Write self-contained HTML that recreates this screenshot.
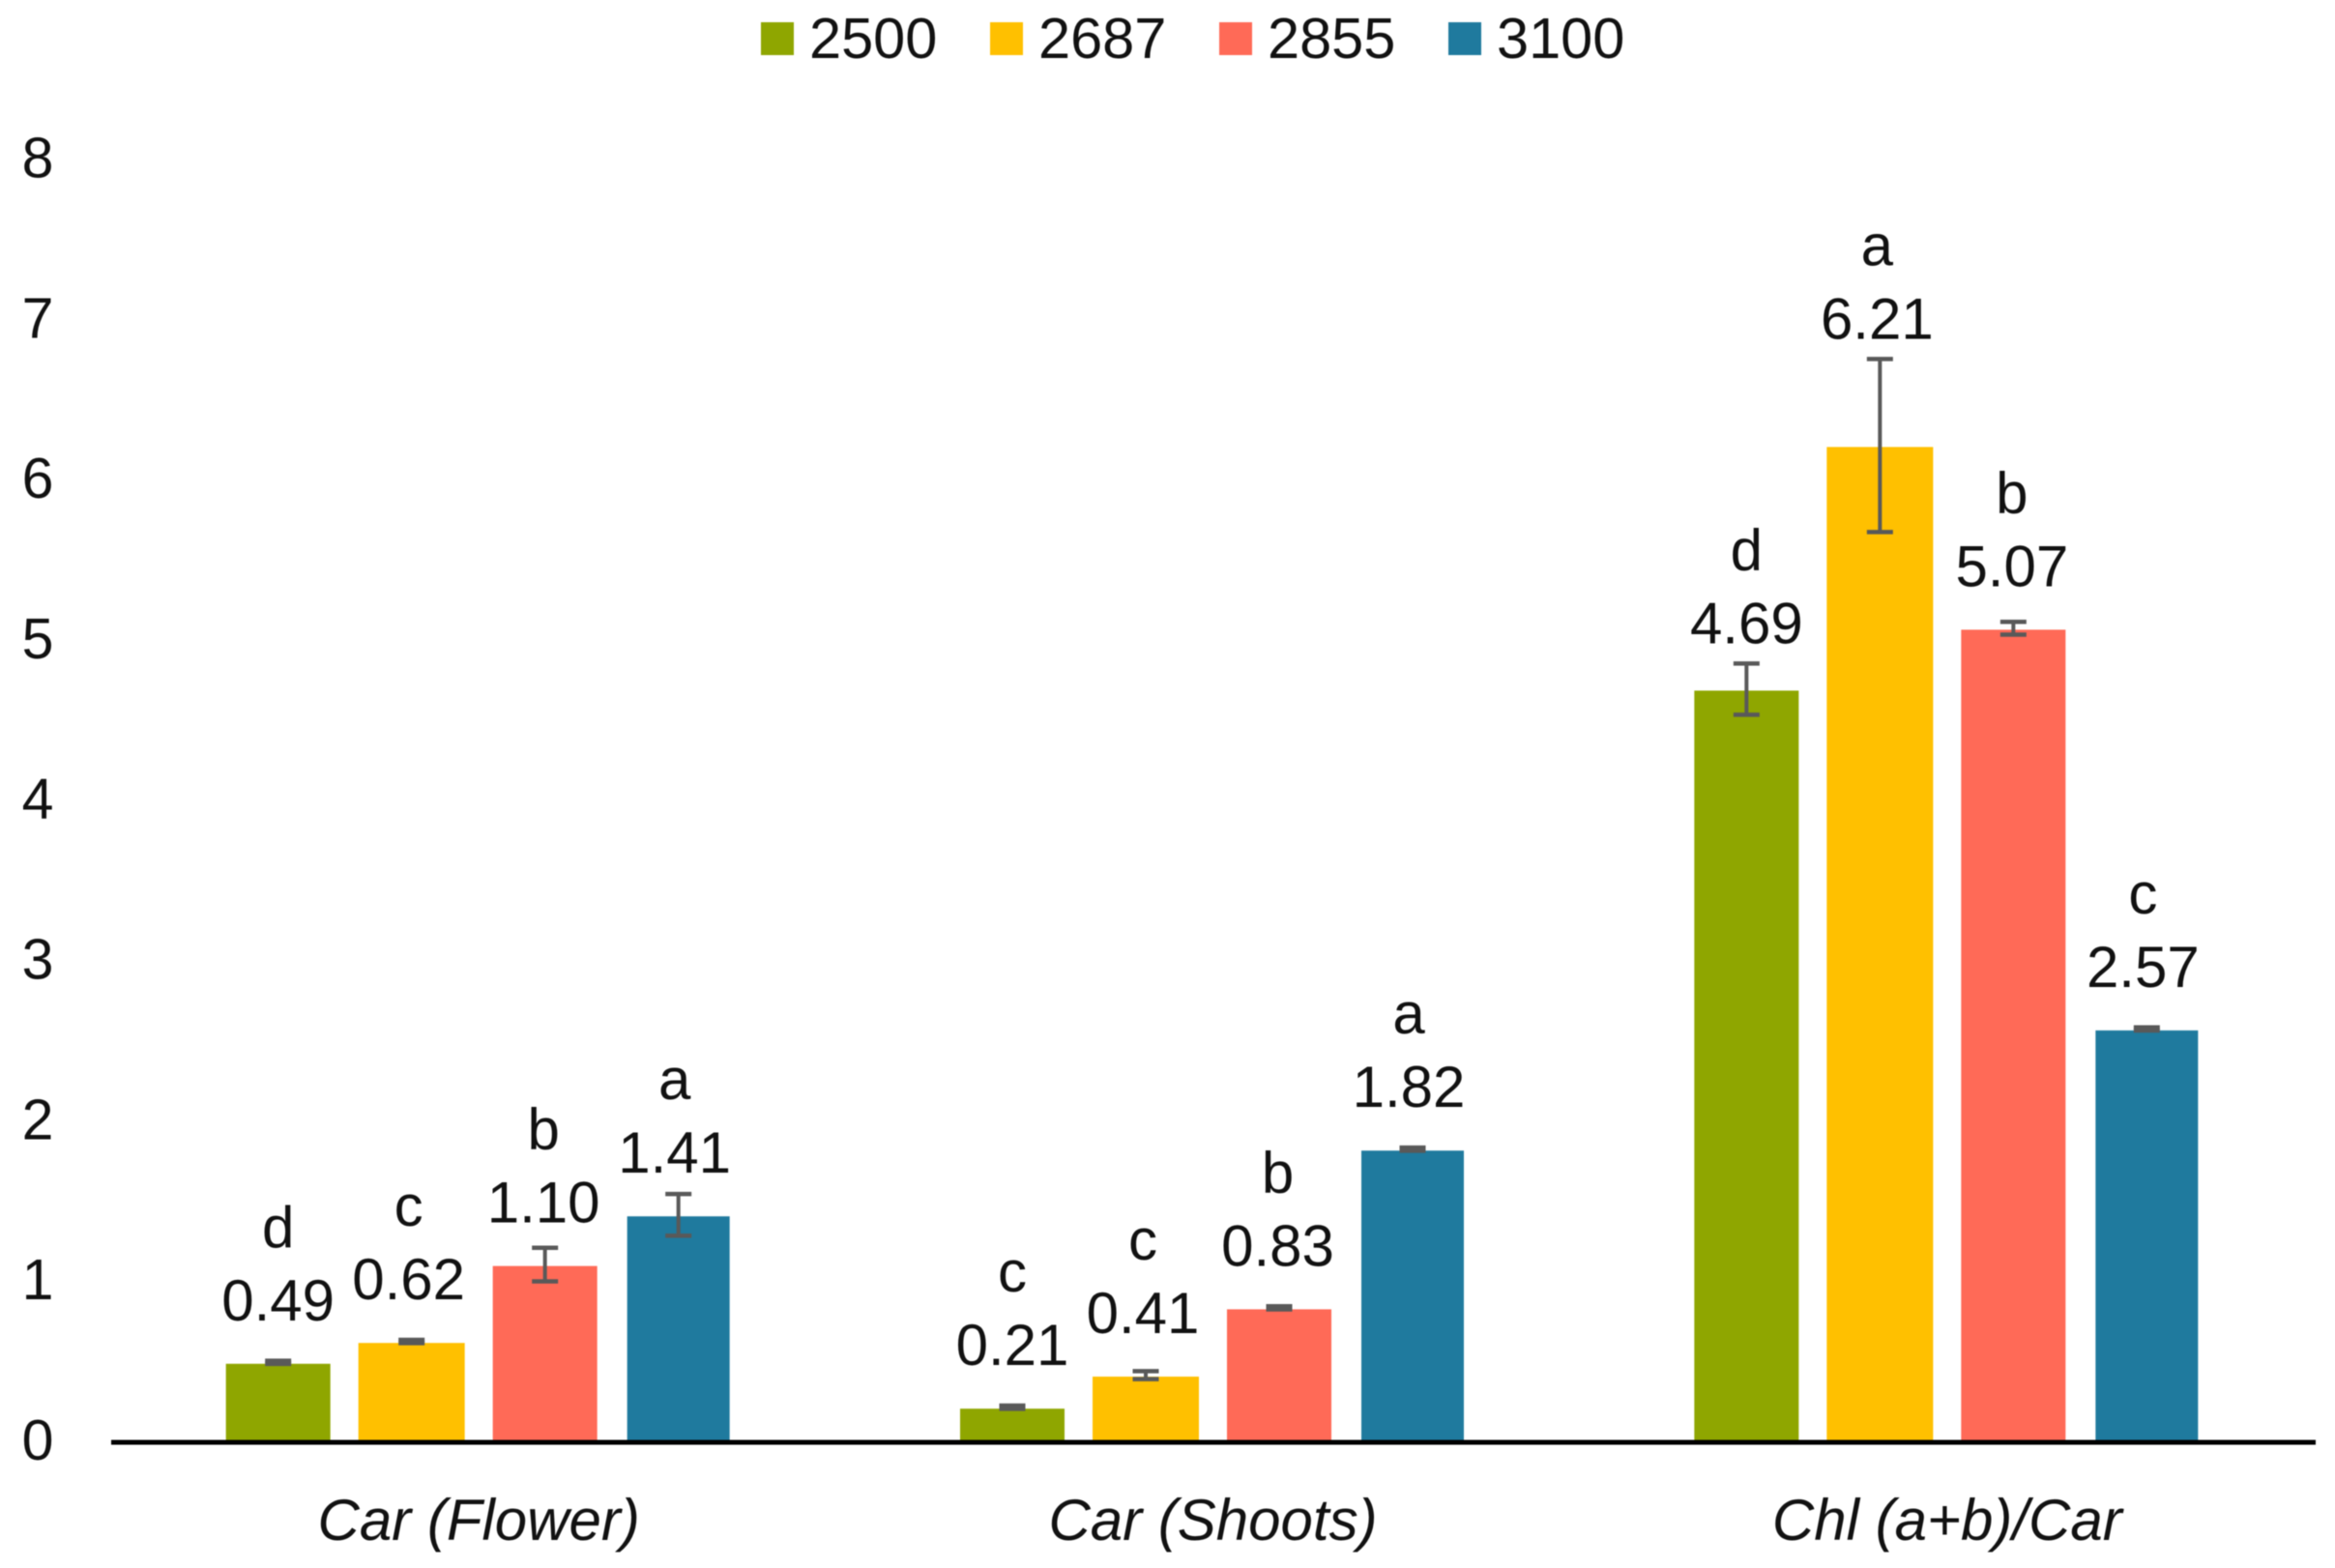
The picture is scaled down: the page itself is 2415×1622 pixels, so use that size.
<!DOCTYPE html>
<html lang="en">
<head>
<meta charset="utf-8">
<title>Grouped bar chart</title>
<style>
  html, body { margin: 0; padding: 0; background: #fff; }
  #chart { display: block; width: 2415px; height: 1622px; filter: blur(0.6px); }
  text { font-family: "Liberation Sans", sans-serif; fill: #111; }
</style>
</head>
<body>
<svg id="chart" xmlns="http://www.w3.org/2000/svg" width="2415" height="1622" viewBox="0 0 2415 1622">
  <g id="legend"></g>
  <g id="y-axis"></g>
  <g id="bars"></g>
  <g id="x-axis"></g>
</svg>
<script>
const categories = ["Car (Flower)", "Car (Shoots)", "Chl (a+b)/Car"];
const seriesNames = ["2500", "2687", "2855", "3100"];
const values2500 = [0.49, 0.21, 4.69];
const values2687 = [0.62, 0.41, 6.21];
const values2855 = [1.10, 0.83, 5.07];
const values3100 = [1.41, 1.82, 2.57];
const errors2500 = [0.01, 0.01, 0.16];
const errors2687 = [0.01, 0.025, 0.54];
const errors2855 = [0.105, 0.01, 0.04];
const errors3100 = [0.13, 0.01, 0.01];
const letters2500 = ["d", "c", "d"];
const letters2687 = ["c", "c", "a"];
const letters2855 = ["b", "b", "b"];
const letters3100 = ["a", "a", "c"];
const yTicks = [0, 1, 2, 3, 4, 5, 6, 7, 8];

const seriesValues = [values2500, values2687, values2855, values3100];
const seriesErrors = [errors2500, errors2687, errors2855, errors3100];
const seriesLetters = [letters2500, letters2687, letters2855, letters3100];

const colors = ["#8FA600", "#FFC000", "#FF6A57", "#1F7A9E"];
const barWidths = [108, 110, 108, 106];
const labelNudgeBySeries = [0, -3, -1.5, -4];
const NS = "http://www.w3.org/2000/svg";
const plotLeft = 115, plotRight = 2393, axisEnd = 2395, baseY = 1492, unitPx = 165.8, barStep = 138;
const bandW = (plotRight - plotLeft) / categories.length;

function xBand(c) { return plotLeft + bandW * (c + 0.5); }
function xBar(c, s) { return xBand(c) + (s - 1.5) * barStep; }
function yVal(v) { return baseY - v * unitPx; }

function shape(parent, tag, attrs, content) {
  const el = document.createElementNS(NS, tag);
  for (const k in attrs) el.setAttribute(k, attrs[k]);
  if (content !== undefined) el.textContent = content;
  parent.appendChild(el);
  return el;
}

const legendG = document.getElementById("legend");
const yG = document.getElementById("y-axis");
const barsG = document.getElementById("bars");
const xG = document.getElementById("x-axis");

seriesNames.forEach(function (name, s) {
  const x0 = 787 + s * 237;
  const sw = shape(legendG, "rect", { x: x0, y: 23, width: 34, height: 34, fill: colors[s] });
  
  
  const t = shape(legendG, "text", { x: x0 + 50, y: 60, "font-size": 59.5 }, name);
  
  
});

yTicks.forEach(function (v) {
  const t = shape(yG, "text", { x: 39, y: yVal(v) + 18, "font-size": 59, "text-anchor": "middle" }, String(v));
  
  
});

categories.forEach(function (cat, c) {
  seriesNames.forEach(function (name, s) {
    const v = seriesValues[s][c];
    const e = seriesErrors[s][c];
    const cx = xBar(c, s);
    const top = yVal(v);
    const w = barWidths[s];

    const bar = shape(barsG, "rect", { x: cx - w / 2, y: top, width: w, height: baseY - top, fill: colors[s] });
    
    

    const errTop = yVal(v + e) - 1.5, errBot = yVal(v - e) - 1.5;
    const ex = cx;
    const stem = shape(barsG, "line", { x1: ex, x2: ex, y1: errTop, y2: errBot, stroke: "#595959", "stroke-width": 4 });
    
    
    const capTop = shape(barsG, "line", { x1: ex - 13.5, x2: ex + 13.5, y1: errTop, y2: errTop, stroke: "#595959", "stroke-width": 4.5 });
    
    
    const capBot = shape(barsG, "line", { x1: ex - 13.5, x2: ex + 13.5, y1: errBot, y2: errBot, stroke: "#595959", "stroke-width": 4.5 });
    
    

    const labelCenter = Math.min(top - 66, errTop - 42);
    const valueBase = labelCenter + 21;
    const labelX = cx + labelNudgeBySeries[s];
    const valueT = shape(barsG, "text", { x: labelX, y: valueBase, "font-size": 60, "text-anchor": "middle" }, v.toFixed(2));
    
    
    const letterT = shape(barsG, "text", { x: labelX, y: valueBase - 76, "font-size": 60, "text-anchor": "middle" }, seriesLetters[s][c]);
    
    
  });

  const catT = shape(xG, "text", { x: xBand(c) + 0.5, y: 1593, "font-size": 60, "font-style": "italic", "text-anchor": "middle" }, cat);
  
  
});

const axisLine = shape(xG, "line", { x1: plotLeft, x2: axisEnd, y1: baseY, y2: baseY, stroke: "#000", "stroke-width": 5 });


</script>
</body>
</html>
